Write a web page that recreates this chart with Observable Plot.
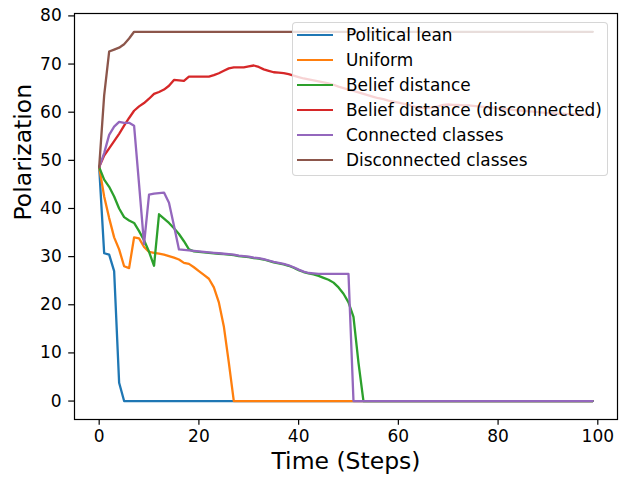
<!DOCTYPE html>
<html><head><meta charset="utf-8">
<script src="https://cdn.jsdelivr.net/npm/d3@7"></script>
<script src="https://cdn.jsdelivr.net/npm/@observablehq/plot@0.6"></script>
<style>
body{margin:0;background:#fff;font-family:"DejaVu Sans",sans-serif;}
#wrap{position:relative;width:619px;height:481px;}
#legend{position:absolute;left:292px;top:22px;width:314px;height:152px;background:rgba(255,255,255,0.8);border:1px solid rgba(204,204,204,0.8);border-radius:4px;font-size:16.9px;color:#000;}
.row{position:absolute;left:0;height:25px;display:flex;align-items:center;white-space:nowrap;}
.sw{width:36px;height:0;border-top:2.3px solid;margin-left:4px;margin-right:13px;}
</style></head>
<body>
<div id="wrap"><div id="chart"></div><div id="legend"></div></div>
<script>
const names = ["Political lean","Uniform","Belief distance","Belief distance (disconnected)","Connected classes","Disconnected classes"];
const colors = ["#1f77b4","#ff7f0e","#2ca02c","#d62728","#9467bd","#8c564b"];
const xTicks = [0,20,40,60,80,100];
const yTicks = [0,10,20,30,40,50,60,70,80];
const steps = d3.range(100);

const politicalLean = [
48.6,30.7,30.4,27.0,3.8,0,0,0,0,0,
0,0,0,0,0,0,0,0,0,0,
0,0,0,0,0,0,0,0,0,0,
0,0,0,0,0,0,0,0,0,0,
0,0,0,0,0,0,0,0,0,0,
0,0,0,0,0,0,0,0,0,0,
0,0,0,0,0,0,0,0,0,0,
0,0,0,0,0,0,0,0,0,0,
0,0,0,0,0,0,0,0,0,0,
0,0,0,0,0,0,0,0,0,0];
const uniform = [
48.6,42.5,38.0,34.0,31.5,28.0,27.6,34.0,33.8,32.0,
31.0,30.8,30.6,30.4,30.1,29.8,29.4,28.7,28.5,27.8,
27.0,26.2,25.4,23.6,20.5,15.5,8.0,0,0,0,
0,0,0,0,0,0,0,0,0,0,
0,0,0,0,0,0,0,0,0,0,
0,0,0,0,0,0,0,0,0,0,
0,0,0,0,0,0,0,0,0,0,
0,0,0,0,0,0,0,0,0,0,
0,0,0,0,0,0,0,0,0,0,
0,0,0,0,0,0,0,0,0,0];
const beliefDistance = [
48.6,46.0,44.5,42.5,40.0,38.2,37.5,37.0,35.3,33.4,
31.0,28.1,38.8,37.9,37.0,35.9,34.7,33.2,31.5,31.1,
31.0,30.9,30.8,30.7,30.6,30.5,30.4,30.3,30.1,30.0,
29.9,29.7,29.6,29.4,29.1,28.8,28.6,28.4,28.1,27.7,
27.2,26.8,26.5,26.3,26.0,25.6,25.2,24.6,23.6,22.3,
20.5,17.5,8.0,0,0,0,0,0,0,0,
0,0,0,0,0,0,0,0,0,0,
0,0,0,0,0,0,0,0,0,0,
0,0,0,0,0,0,0,0,0,0,
0,0,0,0,0,0,0,0,0,0];
const beliefDisconnected = [
48.6,51.0,52.5,54.0,55.5,57.2,58.8,60.3,61.2,61.9,
62.8,63.8,64.2,64.7,65.5,66.7,66.6,66.5,67.4,67.4,
67.4,67.4,67.4,67.7,68.1,68.6,69.1,69.3,69.3,69.3,
69.5,69.7,69.4,68.9,68.6,68.3,68.2,68.1,67.9,67.6,
67.3,67.0,66.8,66.6,66.4,66.2,66.0,65.7,65.3,65.0,
64.7,64.4,64.1,63.8,63.5,63.2,62.9,62.7,62.4,62.2,
62.0,61.8,61.5,61.2,60.9,60.9,60.9,61.0,61.2,61.5,
61.6,61.5,61.5,61.4,61.4,61.3,61.2,61.1,61.0,60.9,
60.8,60.7,60.6,60.5,60.4,60.3,60.2,60.1,60.0,59.9,
59.8,59.8,59.7,59.7,59.6,59.6,59.5,59.5,59.4,59.4];
const connectedClasses = [
48.6,51.5,55.3,57.0,58.0,57.8,57.8,57.2,45.0,32.6,
42.9,43.1,43.2,43.3,41.2,36.4,31.5,31.4,31.3,31.2,
31.1,31.0,30.9,30.8,30.7,30.6,30.5,30.4,30.2,30.1,
30.0,29.8,29.7,29.5,29.2,28.9,28.7,28.5,28.2,27.8,
27.3,26.9,26.6,26.5,26.4,26.4,26.4,26.4,26.4,26.4,
26.4,0,0,0,0,0,0,0,0,0,
0,0,0,0,0,0,0,0,0,0,
0,0,0,0,0,0,0,0,0,0,
0,0,0,0,0,0,0,0,0,0,
0,0,0,0,0,0,0,0,0,0];
const disconnectedClasses = [
48.6,63.5,72.6,73.0,73.4,74.1,75.3,76.7,76.7,76.7,
76.7,76.7,76.7,76.7,76.7,76.7,76.7,76.7,76.7,76.7,
76.7,76.7,76.7,76.7,76.7,76.7,76.7,76.7,76.7,76.7,
76.7,76.7,76.7,76.7,76.7,76.7,76.7,76.7,76.7,76.7,
76.7,76.7,76.7,76.7,76.7,76.7,76.7,76.7,76.7,76.7,
76.7,76.7,76.7,76.7,76.7,76.7,76.7,76.7,76.7,76.7,
76.7,76.7,76.7,76.7,76.7,76.7,76.7,76.7,76.7,76.7,
76.7,76.7,76.7,76.7,76.7,76.7,76.7,76.7,76.7,76.7,
76.7,76.7,76.7,76.7,76.7,76.7,76.7,76.7,76.7,76.7,
76.7,76.7,76.7,76.7,76.7,76.7,76.7,76.7,76.7,76.7];

const series = [politicalLean, uniform, beliefDistance, beliefDisconnected, connectedClasses, disconnectedClasses];
const data = names.flatMap((name, i) => series[i].map((v, j) => ({t: steps[j], v, name})));

const chart = Plot.plot({
  width: 619, height: 481,
  marginTop: 13, marginBottom: 62, marginLeft: 74, marginRight: 2,
  style: {fontFamily: "DejaVu Sans", fontSize: "17px", color: "black", background: "white"},
  x: {domain: [-4.95, 103.95]},
  y: {domain: [-3.83, 80.5]},
  color: {domain: names, range: colors},
  marks: [
    Plot.axisX({ticks: xTicks, tickSize: 5.8, tickPadding: 5, label: null, fontSize: 17, strokeWidth: 1.2, tickFormat: d => String(d)}),
    Plot.axisY({ticks: yTicks, tickSize: 5.8, tickPadding: 7, label: null, fontSize: 17, strokeWidth: 1.2, tickFormat: d => String(d)}),
    Plot.lineY(data, {x: "t", y: "v", z: "name", stroke: "name", strokeWidth: 2.3}),
    Plot.frame({stroke: "black", strokeWidth: 1.2}),
    Plot.text(["Time (Steps)"], {frameAnchor: "bottom", dy: 49, fontSize: 23.5}),
    Plot.text(["Polarization"], {frameAnchor: "left", dx: -51, dy: 4, rotate: -90, fontSize: 23.5})
  ]
});
document.getElementById("chart").appendChild(chart);

const legend = document.getElementById("legend");
names.forEach((name, i) => {
  const row = document.createElement("div");
  row.className = "row";
  row.style.top = (12 + 25 * i - 12.5) + "px";
  const sw = document.createElement("span");
  sw.className = "sw";
  sw.style.borderTopColor = colors[i];
  const label = document.createElement("span");
  label.textContent = name;
  row.appendChild(sw);
  row.appendChild(label);
  legend.appendChild(row);
});
</script>
</body></html>
